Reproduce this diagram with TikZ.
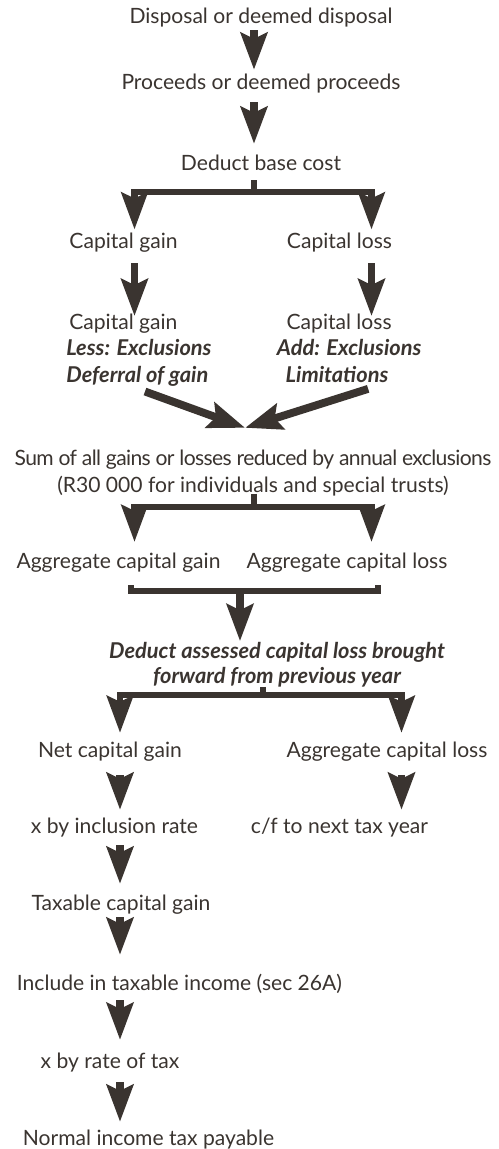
\documentclass[tikz,border=0pt]{standalone}
\usepackage{fontspec}
\setmainfont{Lato}
\usetikzlibrary{arrows.meta}
\definecolor{ink}{RGB}{58,52,48}
\newcommand{\boldit}[1]{{\fontsize{12.4}{15}\selectfont\bfseries\itshape #1}}
\tikzset{
	txt/.style={anchor=base, font=\fontsize{12}{15}\selectfont, text=ink, inner xsep=0pt, inner ysep=3pt, text height=11.7pt, text depth=2.6pt},
	lines/.style={anchor=base, font=\fontsize{12}{15}\selectfont, text=ink, inner xsep=0pt, inner ysep=3pt},
	flow/.style={draw=ink, line width=4.5pt, -{Stealth[length=21pt, width=15pt, inset=3.4pt]}},
	fork/.style={flow, line width=3.6pt, line join=miter},
	bar/.style={draw=ink, line width=3.4pt, line join=miter}
}

\begin{document}
\begin{tikzpicture}[x=0.02cm, y=-0.02cm]
\useasboundingbox (0,0) rectangle (498,1149);
% columns
\coordinate (colM) at (254,0);
\coordinate (colL) at (134.5,0);
\coordinate (colR) at (371.5,0);
\coordinate (colG) at (145,0);
\coordinate (colP) at (131,0);
\coordinate (colQ) at (378,0);
\coordinate (colA) at (120,0);
\coordinate (colB) at (401.5,0);
% text
\node (disp) [txt] at (261,24) {Disposal or deemed disposal};
\node (proc) [txt] at (261,90) {Proceeds or deemed proceeds};
\node (base) [txt] at (261,170) {Deduct base cost};
\node (gain) [txt] at (123.5,248) {Capital gain};
\node (loss) [txt] at (339.5,248) {Capital loss};
\node (gainx) [lines, align=left, anchor=base west] at (66,382) {\hspace*{1.7pt}Capital gain\\\boldit{Less: Exclusions}\\\boldit{Deferral of gain}};
\node (lossx) [lines, align=left, anchor=base west] at (281,382) {\hspace*{3pt}Capital loss\\\hspace*{-2.5pt}\boldit{Add: Exclusions}\\\hspace*{2.5pt}\boldit{Limitations}};
\node (sum) [lines, align=center] at (253,492) {{\addfontfeatures{LetterSpace=-2.9}Sum of all gains or losses reduced by annual exclusions}\\(R30 000 for individuals and special trusts)};
\node (agg) [txt] at (118.5,568) {Aggregate capital gain};
\node (aggl) [txt] at (347,568) {Aggregate capital loss};
\node (prev) [lines, align=center, font=\fontsize{12.4}{14.2}\selectfont\bfseries\itshape] at (277,683) {Deduct assessed capital loss brought\\forward from previous year};
\node (net) [txt] at (110,757) {Net capital gain};
\node (carry) [txt] at (387,757) {Aggregate capital loss};
\node (incl) [txt] at (114.5,833) {x by inclusion rate};
\node (cf) [txt] at (339.5,833) {c/f to next tax year};
\node (taxable) [txt] at (121,910) {Taxable capital gain};
\node (include) [txt] at (179.5,990) {Include in taxable income (sec 26A)};
\node (rate) [txt] at (110,1068) {x by rate of tax};
\node (normal) [txt] at (148.5,1145) {Normal income tax payable};
% arrows
\draw[flow, shorten <=-2.3pt, shorten >=-3.4pt] (disp.south -| colM) -- (proc.north -| colM);
\draw[flow, shorten <=1.1pt] (proc.south -| colM) -- (base.north -| colM);
\coordinate (fork1) at (254,192);
\draw[bar] (base.south -| colM) -- (fork1);
\draw[fork, shorten >=-4.3pt] (fork1) -| (gain.north -| colL);
\draw[fork, shorten >=-4.3pt] (fork1) -| (loss.north -| colR);
\draw[flow, shorten <=2.8pt, shorten >=-4.5pt] (gain.south -| colL) -- (gainx.north -| colL);
\draw[flow, shorten <=2.8pt, shorten >=-4.5pt] (loss.south -| colR) -- (lossx.north -| colR);
\coordinate (meet) at ([xshift=-4.5pt, yshift=9.5pt]sum.north);
\draw[flow] (gainx.south -| colG) -- (meet);
\draw[flow, shorten <=2pt] (lossx.south -| colR) -- (meet);
\coordinate (fork2) at (254,507);
\draw[bar, shorten <=-4.3pt] (sum.south -| colM) -- (fork2);
\draw[fork] (fork2) -| (agg.north -| colL);
\draw[fork] (fork2) -| (aggl.north -| colR);
\coordinate (join2) at (240,591);
\draw[bar, shorten <=4pt, shorten >=4pt] (agg.south -| colP) |- (join2) -| (aggl.south -| colQ);
\draw[flow, shorten >=-2.8pt] (join2) -- (prev.north -| join2);
\coordinate (fork3) at (263,695);
\draw[bar, shorten <=-3.1pt] (prev.south -| fork3) -- (fork3);
\draw[fork, shorten >=-1.1pt] (fork3) -| (net.north -| colA);
\draw[fork, shorten >=-1.1pt] (fork3) -| (carry.north -| colB);
\draw[flow, shorten <=4.5pt, shorten >=-1.7pt] (net.south -| colA) -- (incl.north -| colA);
\draw[flow, shorten <=4.5pt, shorten >=-1.7pt] (carry.south -| colB) -- (cf.north -| colB);
\draw[flow, shorten <=1.1pt] (incl.south -| colA) -- (taxable.north -| colA);
\draw[flow, shorten <=-1.7pt, shorten >=5.1pt] (taxable.south -| colA) -- (include.north -| colA);
\draw[flow, shorten >=1.1pt] (include.south -| colA) -- (rate.north -| colA);
\draw[flow, shorten <=2.3pt, shorten >=-1.7pt] (rate.south -| colA) -- (normal.north -| colA);
\end{tikzpicture}
\end{document}
